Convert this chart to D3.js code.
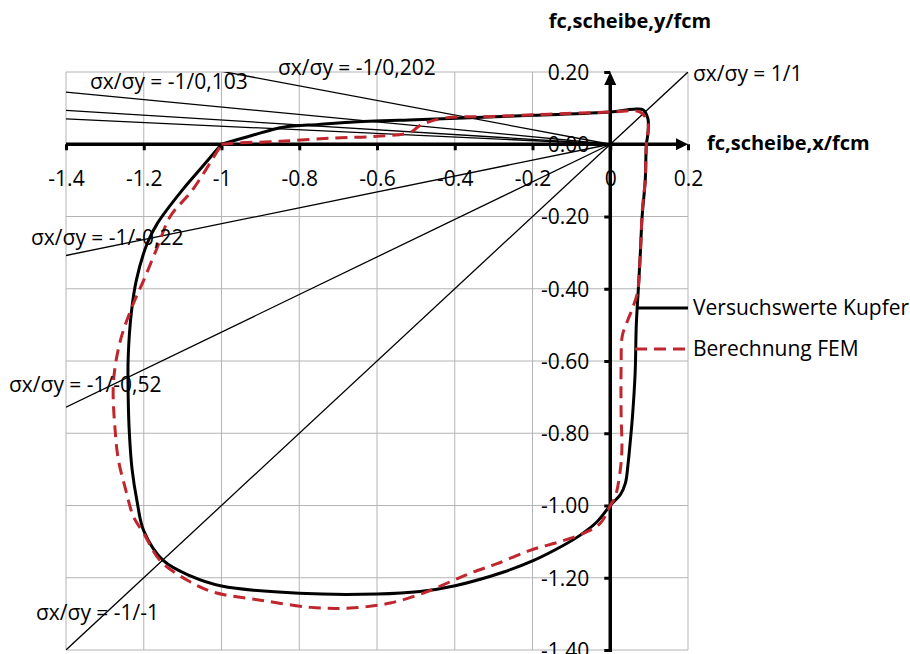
<!DOCTYPE html>
<html>
<head>
<meta charset="utf-8">
<script src="https://cdn.jsdelivr.net/npm/d3@7"></script>
<style>
  body { margin: 0; background: #fff; }
  text { font-family: "Open Sans", sans-serif; fill: #000; }
</style>
</head>
<body>
<svg id="chart" width="910" height="654"></svg>
<script>
// ticks
const xTicks = [-1.4, -1.2, -1.0, -0.8, -0.6, -0.4, -0.2, 0, 0.2]
const xTickLabels = ['-1.4', '-1.2', '-1', '-0.8', '-0.6', '-0.4', '-0.2', '0', '0.2']
const yTicks = [0.2, 0, -0.2, -0.4, -0.6, -0.8, -1.0, -1.2, -1.4]
const yTickLabels = ['0.20', '0.00', '-0.20', '-0.40', '-0.60', '-0.80', '-1.00', '-1.20', '-1.40']

// Versuchswerte Kupfer
const kupferX = [-1.0, -0.92, -0.841, -0.75, -0.669, -0.5, -0.394, -0.2, 0.0, 0.059, 0.085, 0.097, 0.097, 0.093,
  0.09, 0.082, 0.077, 0.072, 0.067, 0.064, 0.057, 0.05, 0.046, 0.039, 0.026, 0.0,
  -0.034, -0.077, -0.12, -0.197, -0.274, -0.399, -0.489, -0.6, -0.8, -1.0, -1.08, -1.15, -1.2, -1.217, -1.23,
  -1.237, -1.24, -1.24, -1.232, -1.219, -1.191, -1.165, -1.101, -1.05, -1.0]
const kupferY = [0.0, 0.025, 0.047, 0.055, 0.061, 0.068, 0.072, 0.08, 0.089, 0.097, 0.095, 0.07, 0.03, 0.0,
  -0.1, -0.2, -0.31, -0.405, -0.5, -0.634, -0.756, -0.84, -0.883, -0.938, -0.97, -1.0,
  -1.045, -1.082, -1.11, -1.152, -1.184, -1.222, -1.238, -1.245, -1.243, -1.223, -1.195, -1.152, -1.07, -0.99, -0.9,
  -0.8, -0.7, -0.59, -0.467, -0.376, -0.274, -0.219, -0.127, -0.063, 0.0]

// Berechnung FEM
const femX = [-1.0, -0.97, -0.85, -0.713, -0.6, -0.514, -0.489, -0.43, -0.3, 0.0, 0.077, 0.095, 0.098, 0.093,
  0.09, 0.083, 0.077, 0.07, 0.055, 0.044, 0.031, 0.028, 0.028, 0.03, 0.026, 0.013, 0.0,
  -0.026, -0.069, -0.129, -0.206, -0.291, -0.352, -0.403, -0.472, -0.566, -0.67, -0.77, -0.9, -1.02, -1.088,
  -1.158, -1.2, -1.226, -1.248, -1.265, -1.273, -1.278, -1.26, -1.23, -1.2, -1.165, -1.132, -1.075, -1.0]
const femY = [0.0, 0.003, 0.008, 0.017, 0.022, 0.033, 0.052, 0.072, 0.077, 0.089, 0.089, 0.065, 0.047, 0.0,
  -0.1, -0.175, -0.31, -0.41, -0.46, -0.49, -0.53, -0.61, -0.75, -0.84, -0.9, -0.975, -1.0,
  -1.05, -1.077, -1.1, -1.124, -1.161, -1.184, -1.207, -1.239, -1.27, -1.284, -1.282, -1.262, -1.24, -1.207,
  -1.152, -1.077, -1.032, -0.95, -0.875, -0.8, -0.66, -0.543, -0.45, -0.376, -0.285, -0.2, -0.127, 0.0]

// load paths sigma_y / sigma_x through the origin
const rayRatios = [1, 0.52, 0.22, -0.103, -0.067, -0.05, -0.202]
const rayLabels = ['σx/σy = 1/1', 'σx/σy = -1/-1', 'σx/σy = -1/-0,52', 'σx/σy = -1/-0,22',
  'σx/σy = -1/0,103', 'σx/σy = -1/0,202']
const rayLabelPos = [[693, 81], [36, 620], [9, 392], [31, 245], [90, 89], [278, 75]]

const legendNames = ['Versuchswerte Kupfer', 'Berechnung FEM']

const svg = d3.select('#chart')
const x = d3.scaleLinear().domain([-1.4, 0.2]).range([66, 688])
const y = d3.scaleLinear().domain([-1.4, 0.2]).range([650, 72])
const red = '#c0262d'
const gridColor = '#b4b4b4'
const fontSize = 21

svg.append('defs').append('clipPath').attr('id', 'plot')
  .append('rect')
  .attr('x', x(-1.4)).attr('y', y(0.2))
  .attr('width', x(0.2) - x(-1.4)).attr('height', y(-1.4) - y(0.2))

// grid
const grid = svg.append('g')
grid.selectAll('.vgrid').data(xTicks).enter().append('line')
  .attr('x1', d => x(d)).attr('x2', d => x(d))
  .attr('y1', y(0.2)).attr('y2', y(-1.4))
  .attr('stroke', gridColor).attr('stroke-width', 1)
grid.selectAll('.hgrid').data(yTicks).enter().append('line')
  .attr('y1', d => y(d)).attr('y2', d => y(d))
  .attr('x1', x(-1.4)).attr('x2', x(0.2))
  .attr('stroke', gridColor).attr('stroke-width', 1)

// axes through origin
const xAxis = svg.append('g')
  .attr('transform', `translate(0,${y(0)})`)
  .call(d3.axisBottom(x).tickValues(xTicks).tickSize(6).tickFormat((d, i) => xTickLabels[i]))
xAxis.select('.domain').remove()
xAxis.selectAll('.tick line').attr('stroke', '#000').attr('stroke-width', 3)
xAxis.selectAll('.tick text').attr('font-size', fontSize).attr('y', 34).attr('dy', '0.35em')

const yAxis = svg.append('g')
  .attr('transform', `translate(${x(0)},0)`)
  .call(d3.axisLeft(y).tickValues(yTicks).tickSize(6).tickFormat((d, i) => yTickLabels[i]))
yAxis.select('.domain').remove()
yAxis.selectAll('.tick line').attr('stroke', '#000').attr('stroke-width', 3)
yAxis.selectAll('.tick text').attr('font-size', fontSize).attr('x', -21).attr('dy', '0.35em')

svg.append('line')
  .attr('x1', x(-1.4)).attr('x2', x(0.2) - 8)
  .attr('y1', y(0)).attr('y2', y(0))
  .attr('stroke', '#000').attr('stroke-width', 3.5)
svg.append('line')
  .attr('x1', x(0)).attr('x2', x(0))
  .attr('y1', y(-1.4) + 2).attr('y2', y(0.2) + 8)
  .attr('stroke', '#000').attr('stroke-width', 3.5)
svg.append('path')
  .attr('d', `M${x(0.2)},${y(0)} l-12,-6 l0,12 Z`)
svg.append('path')
  .attr('d', `M${x(0)},${y(0.2)} l-6,13 l12,0 Z`)

// rays
const rays = svg.append('g').attr('clip-path', 'url(#plot)')
rays.selectAll('line').data(rayRatios).enter().append('line')
  .attr('x1', x(-1.4)).attr('y1', k => y(-1.4 * k))
  .attr('x2', k => k === 1 ? x(0.2) : x(0)).attr('y2', k => k === 1 ? y(0.2) : y(0))
  .attr('stroke', '#000').attr('stroke-width', 1.3)

// curves
const line = d3.line()
  .x(d => x(d[0])).y(d => y(d[1]))
  .curve(d3.curveCatmullRom.alpha(0.5))
const kupfer = kupferX.map((v, i) => [v, kupferY[i]])
const fem = femX.map((v, i) => [v, femY[i]])

svg.append('path').datum(kupfer)
  .attr('d', line).attr('fill', 'none')
  .attr('stroke', '#000').attr('stroke-width', 3)
svg.append('path').datum(fem)
  .attr('d', line).attr('fill', 'none')
  .attr('stroke', red).attr('stroke-width', 3)
  .attr('stroke-dasharray', '12,7')

// ray labels
svg.selectAll('.raylabel').data(rayLabels).enter().append('text')
  .attr('x', (d, i) => rayLabelPos[i][0]).attr('y', (d, i) => rayLabelPos[i][1])
  .attr('font-size', fontSize)
  .text(d => d)

// axis titles
svg.append('text').attr('x', 630).attr('y', 28).attr('text-anchor', 'middle')
  .attr('font-size', 20).attr('font-weight', 'bold').text('fc,scheibe,y/fcm')
svg.append('text').attr('x', 707).attr('y', 150)
  .attr('font-size', 20).attr('font-weight', 'bold').text('fc,scheibe,x/fcm')

// legend
const legend = svg.append('g')
legend.append('line').attr('x1', 637).attr('x2', 688).attr('y1', 308).attr('y2', 308)
  .attr('stroke', '#000').attr('stroke-width', 3)
legend.append('line').attr('x1', 635).attr('x2', 688).attr('y1', 349).attr('y2', 349)
  .attr('stroke', red).attr('stroke-width', 3).attr('stroke-dasharray', '12,7')
legend.selectAll('text').data(legendNames).enter().append('text')
  .attr('x', 693).attr('y', (d, i) => 315 + i * 41)
  .attr('font-size', fontSize)
  .text(d => d)
</script>
</body>
</html>
